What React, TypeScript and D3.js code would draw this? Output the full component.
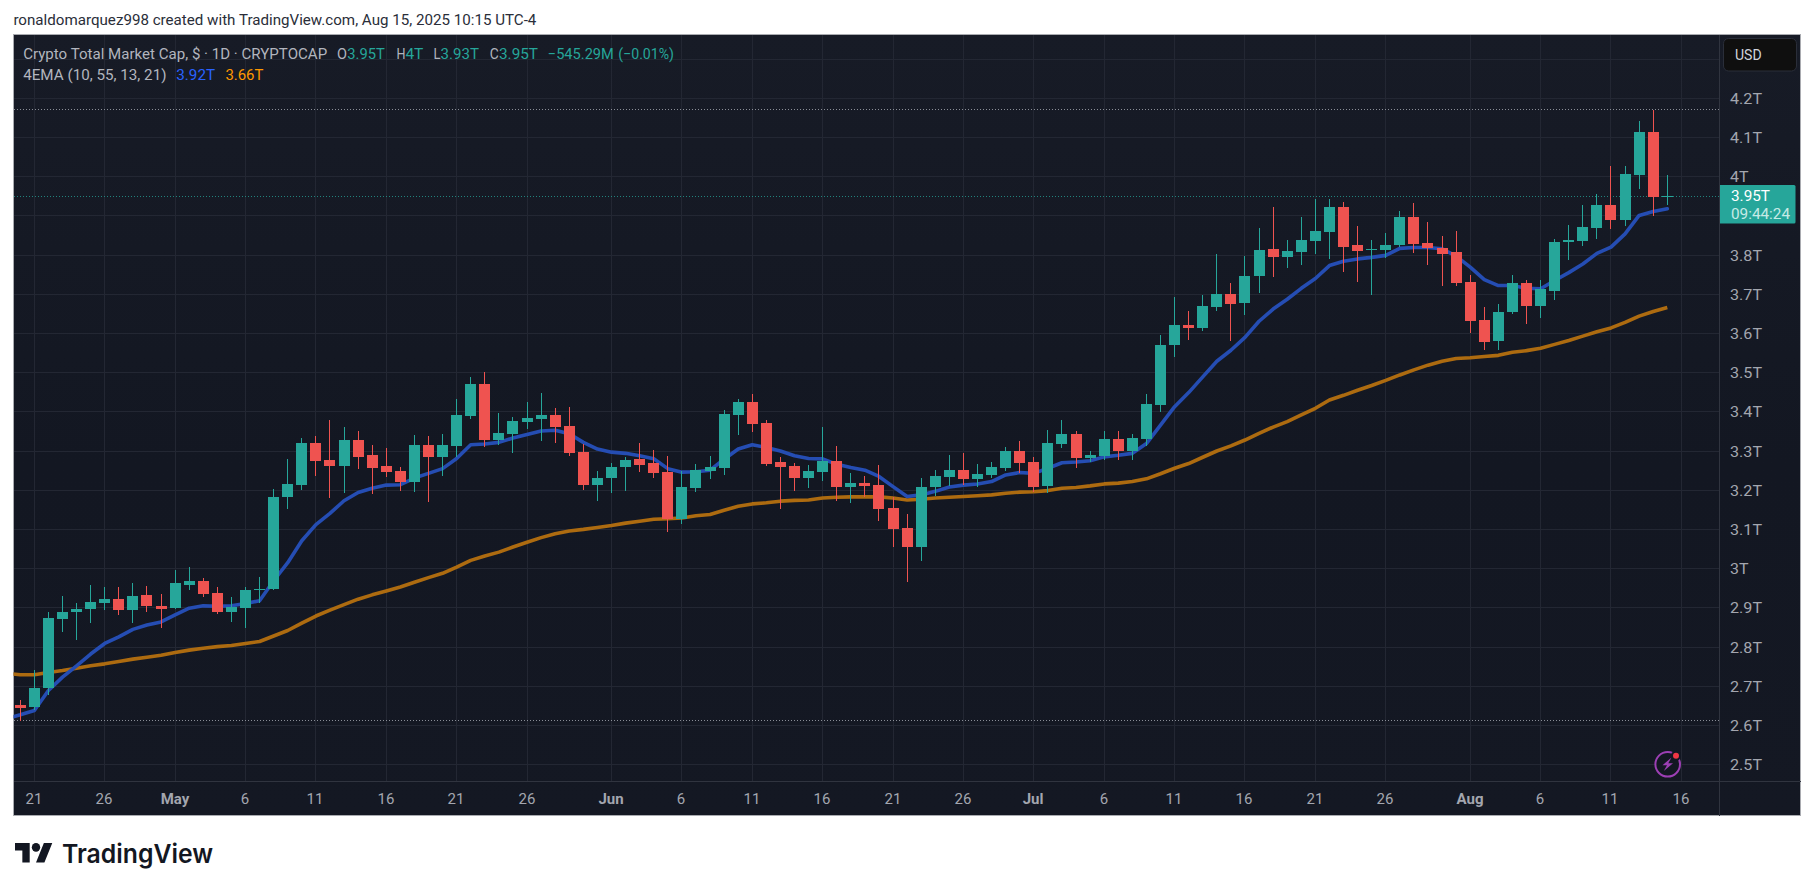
import React from "react";
import * as d3 from "d3";

const W = 1814, H = 891;

// Daily candles, 20 Apr 2025 (index 0) to 15 Aug 2025 (index 117), values in trillions of USD
const opens = [2.652,2.647,2.695,2.871,2.887,2.897,2.912,2.922,2.894,2.932,2.904,2.899,2.958,2.968,2.938,2.889,2.899,2.946,2.948,3.182,
3.213,3.320,3.276,3.261,3.327,3.289,3.261,3.248,3.220,3.315,3.284,3.312,3.389,3.470,3.327,3.343,3.373,3.381,3.391,3.363,
3.297,3.213,3.230,3.259,3.279,3.269,3.246,3.126,3.205,3.248,3.256,3.391,3.424,3.371,3.271,3.261,3.230,3.246,3.274,3.207,
3.218,3.213,3.154,3.103,3.054,3.207,3.233,3.251,3.228,3.238,3.256,3.299,3.271,3.210,3.317,3.342,3.281,3.286,3.329,3.299,
3.329,3.416,3.569,3.620,3.613,3.666,3.699,3.676,3.745,3.814,3.794,3.806,3.835,3.857,3.921,3.824,3.812,3.812,3.824,3.896,
3.829,3.818,3.807,3.731,3.634,3.580,3.654,3.728,3.670,3.708,3.833,3.835,3.869,3.927,3.889,4.004,4.114,3.948];
const closes = [2.644,2.695,2.874,2.889,2.897,2.915,2.922,2.894,2.930,2.904,2.897,2.961,2.968,2.935,2.889,2.902,2.945,2.948,3.182,3.215,
3.320,3.274,3.261,3.327,3.284,3.256,3.246,3.220,3.315,3.284,3.315,3.391,3.470,3.327,3.345,3.376,3.384,3.391,3.361,3.294,
3.213,3.230,3.259,3.276,3.264,3.243,3.126,3.207,3.251,3.259,3.394,3.424,3.368,3.266,3.259,3.230,3.248,3.274,3.207,3.218,
3.210,3.151,3.100,3.054,3.207,3.236,3.251,3.228,3.241,3.259,3.299,3.269,3.207,3.319,3.342,3.281,3.289,3.329,3.299,3.332,
3.419,3.569,3.620,3.613,3.669,3.699,3.674,3.745,3.812,3.794,3.809,3.837,3.860,3.921,3.819,3.809,3.814,3.824,3.896,3.827,
3.817,3.802,3.728,3.631,3.578,3.654,3.728,3.670,3.711,3.833,3.836,3.871,3.927,3.889,4.006,4.114,3.948,3.950];
const highs = [2.665,2.741,2.889,2.930,2.910,2.958,2.953,2.953,2.963,2.955,2.935,2.996,3.004,2.976,2.953,2.927,2.953,2.978,3.203,3.279,
3.332,3.338,3.378,3.361,3.350,3.315,3.307,3.259,3.340,3.338,3.343,3.432,3.488,3.501,3.396,3.386,3.424,3.447,3.409,3.412,
3.317,3.248,3.269,3.284,3.320,3.302,3.287,3.248,3.266,3.287,3.404,3.432,3.445,3.378,3.284,3.269,3.264,3.361,3.312,3.243,
3.236,3.264,3.182,3.139,3.230,3.251,3.289,3.294,3.266,3.271,3.310,3.325,3.284,3.352,3.378,3.350,3.299,3.350,3.350,3.342,
3.444,3.595,3.692,3.656,3.697,3.801,3.727,3.796,3.868,3.921,3.837,3.896,3.942,3.942,3.934,3.873,3.837,3.855,3.911,3.931,
3.883,3.848,3.861,3.749,3.667,3.675,3.749,3.736,3.734,3.841,3.876,3.927,3.955,4.027,4.027,4.142,4.169,4.004];
const lows = [2.611,2.639,2.677,2.836,2.818,2.861,2.894,2.881,2.861,2.887,2.848,2.897,2.945,2.927,2.884,2.864,2.848,2.910,2.945,3.151,
3.200,3.236,3.179,3.192,3.253,3.190,3.233,3.197,3.195,3.169,3.236,3.284,3.381,3.310,3.315,3.294,3.355,3.325,3.320,3.287,
3.200,3.172,3.192,3.197,3.246,3.230,3.093,3.113,3.195,3.228,3.238,3.340,3.348,3.261,3.151,3.197,3.205,3.223,3.172,3.167,
3.182,3.121,3.054,2.965,3.019,3.185,3.210,3.213,3.207,3.230,3.248,3.243,3.195,3.192,3.306,3.255,3.271,3.276,3.276,3.276,
3.312,3.398,3.539,3.582,3.605,3.656,3.579,3.646,3.702,3.743,3.766,3.773,3.801,3.789,3.755,3.730,3.697,3.791,3.819,3.804,
3.773,3.721,3.721,3.601,3.557,3.557,3.649,3.624,3.637,3.685,3.785,3.823,3.841,3.866,3.874,3.968,3.899,3.927];

// Moving averages; the first value belongs to the day before the first candle (index -1)
const emaFast = [2.616,2.626,2.637,2.688,2.722,2.751,2.781,2.808,2.825,2.844,2.855,2.863,2.881,2.898,2.904,2.903,2.904,2.910,2.917,2.968,3.014,
3.070,3.111,3.140,3.172,3.193,3.204,3.212,3.213,3.230,3.242,3.254,3.280,3.315,3.317,3.321,3.332,3.341,3.350,3.352,3.343,
3.321,3.304,3.296,3.293,3.287,3.279,3.254,3.245,3.246,3.250,3.278,3.304,3.315,3.308,3.299,3.287,3.280,3.279,3.265,3.257,
3.250,3.234,3.208,3.183,3.187,3.196,3.207,3.212,3.215,3.221,3.238,3.244,3.242,3.255,3.269,3.271,3.274,3.284,3.288,3.293,
3.318,3.365,3.412,3.448,3.488,3.528,3.556,3.589,3.630,3.661,3.686,3.714,3.739,3.772,3.783,3.789,3.793,3.798,3.816,3.818,
3.818,3.815,3.796,3.768,3.736,3.721,3.721,3.714,3.713,3.734,3.754,3.776,3.803,3.819,3.853,3.900,3.910,3.917];
const emaSlow = [2.732,2.728,2.728,2.734,2.739,2.745,2.751,2.756,2.762,2.768,2.773,2.778,2.785,2.791,2.796,2.800,2.803,2.808,2.813,2.827,2.841,
2.860,2.878,2.893,2.907,2.921,2.932,2.942,2.952,2.964,2.976,2.987,3.003,3.020,3.031,3.041,3.054,3.066,3.078,3.088,3.095,
3.099,3.104,3.109,3.115,3.120,3.125,3.126,3.128,3.134,3.137,3.148,3.158,3.164,3.167,3.171,3.173,3.174,3.179,3.181,3.182,
3.182,3.182,3.179,3.174,3.176,3.179,3.181,3.183,3.185,3.187,3.191,3.194,3.195,3.198,3.204,3.206,3.210,3.215,3.217,3.221,
3.228,3.241,3.255,3.267,3.283,3.299,3.312,3.327,3.344,3.360,3.374,3.391,3.408,3.429,3.441,3.454,3.466,3.479,3.493,3.506,
3.518,3.528,3.535,3.537,3.540,3.543,3.551,3.555,3.561,3.571,3.581,3.592,3.603,3.613,3.627,3.643,3.655,3.665];

const dateTickIndex = [1,6,11,16,21,26,31,36,42,47,52,57,62,67,72,77,82,87,92,97,103,108,113,118];
const dateTickLabels = ["21","26","May","6","11","16","21","26","Jun","6","11","16","21","26","Jul","6","11","16","21","26","Aug","6","11","16"];
const boldLabels = ["May","Jun","Jul","Aug"];
const priceGrid = [2.5,2.6,2.7,2.8,2.9,3.0,3.1,3.2,3.3,3.4,3.5,3.6,3.7,3.8,3.9,4.0,4.1,4.2,4.3];
// 3.9T sits under the last-price tag in the reference, so it is not drawn
const priceTickValues = [2.5,2.6,2.7,2.8,2.9,3.0,3.1,3.2,3.3,3.4,3.5,3.6,3.7,3.8,4.0,4.1,4.2];
const priceTickLabels = ["2.5T","2.6T","2.7T","2.8T","2.9T","3T","3.1T","3.2T","3.3T","3.4T","3.5T","3.6T","3.7T","3.8T","4T","4.1T","4.2T"];
const lastPrice = 3.95;

const FONT = "Roboto, 'Noto Sans', sans-serif";
const UP = "#26a69a", DOWN = "#ef5350", GRID = "#232733", SEP = "#30343f", AXIS = "#a3a6af";
const LEFT = 13.5, RIGHT = 1800.5, TOP = 34.5, BOTTOM = 815.5, PLOT_R = 1719.5, PLOT_B = 781.5;

const x = d3.scaleLinear().domain([0, 117]).range([20.26, 1667.3]);
const y = d3.scaleLinear().domain([2.5, 4.2]).range([764.2, 97.8]);
const snapX = (i: number) => Math.floor(x(i)) + 0.5;
const snapY = (v: number) => Math.round(y(v));

const lineGen = d3.line<number>().x((_, k) => x(k - 1)).y((v) => y(v)).curve(d3.curveLinear);

function label(s: string) {
  let w = 0;
  for (const c of s) w += c === "." ? 6 : c === "T" ? 11 : 7.5;
  return w;
}

function Txt(p: any) {
  const { x: tx, y: ty, w, size = 15, fill = "#b2b5be", weight = 400, anchor = "start", family = FONT, children } = p;
  return (
    <text x={tx} y={ty} fontFamily={family} fontSize={size} fill={fill} fontWeight={weight} textAnchor={anchor}
      dominantBaseline="central" textLength={w} lengthAdjust={w ? "spacingAndGlyphs" : undefined}>
      {children}
    </text>
  );
}

export default function App() {
  return (
    <svg width={W} height={H} viewBox={`0 0 ${W} ${H}`} style={{ position: "fixed", left: 0, top: 0, background: "#fff" }}>
      <defs>
        <clipPath id="plot"><rect x={LEFT} y={TOP} width={PLOT_R - LEFT} height={PLOT_B - TOP} /></clipPath>
        <linearGradient id="bg" x1="0" y1="0" x2="0" y2="1">
          <stop offset="0" stopColor="#171b26" />
          <stop offset="0.55" stopColor="#131722" />
          <stop offset="1" stopColor="#141823" />
        </linearGradient>
      </defs>

      <Txt x={13.4} y={20} w={523} size={15} fill="#2a2e39">ronaldomarquez998 created with TradingView.com, Aug 15, 2025 10:15 UTC-4</Txt>

      <rect x={LEFT} y={TOP} width={RIGHT - LEFT} height={BOTTOM - TOP} fill="url(#bg)" stroke="#a9abb0" strokeWidth={1} shapeRendering="crispEdges" />

      <g shapeRendering="crispEdges" stroke={GRID} strokeWidth={1}>
        {priceGrid.map((v) => <line key={v} x1={LEFT} x2={PLOT_R} y1={snapY(v) + 0.5} y2={snapY(v) + 0.5} />)}
        {dateTickIndex.map((i) => <line key={i} x1={snapX(i)} x2={snapX(i)} y1={TOP} y2={PLOT_B} />)}
      </g>
      <g shapeRendering="crispEdges" stroke={SEP} strokeWidth={1}>
        <line x1={LEFT} x2={RIGHT} y1={PLOT_B} y2={PLOT_B} />
        <line x1={PLOT_R} x2={PLOT_R} y1={TOP} y2={BOTTOM} />
      </g>

      <g clipPath="url(#plot)">
        <g shapeRendering="crispEdges" strokeOpacity={0.75}>
          <line x1={14} x2={PLOT_R} y1={109.5} y2={109.5} stroke="#b2b5be" strokeDasharray="1 2" />
          <line x1={14} x2={PLOT_R} y1={720.5} y2={720.5} stroke="#b2b5be" strokeDasharray="1 2" />
          <line x1={14} x2={PLOT_R} y1={snapY(lastPrice) + 0.5} y2={snapY(lastPrice) + 0.5} stroke={UP} strokeDasharray="1 2" />
        </g>
        <path d={lineGen(emaSlow) || ""} fill="none" stroke="#ad6b10" strokeWidth={3.6} strokeLinejoin="round" />
        <path d={lineGen(emaFast) || ""} fill="none" stroke="#254db3" strokeWidth={3.6} strokeLinejoin="round" strokeLinecap="round" />
        <g shapeRendering="crispEdges">
          {opens.map((o, i) => {
            const c = closes[i];
            const col = c >= o ? UP : DOWN;
            const cx = snapX(i);
            const top = snapY(Math.max(o, c));
            const bot = snapY(Math.min(o, c));
            return (
              <g key={i}>
                <rect x={cx - 0.5} y={snapY(highs[i])} width={1} height={Math.max(1, snapY(lows[i]) - snapY(highs[i]))} fill={col} />
                <rect x={cx - 5.5} y={top} width={11} height={Math.max(1, bot - top)} fill={col} />
              </g>
            );
          })}
        </g>
      </g>

      {/* legend */}
      <Txt x={23.2} y={54} w={304}>Crypto Total Market Cap, $ · 1D · CRYPTOCAP</Txt>
      <Txt x={337} y={54} w={10}>O</Txt><Txt x={347.3} y={54} w={37.5} fill={UP}>3.95T</Txt>
      <Txt x={396.4} y={54} w={9}>H</Txt><Txt x={405.4} y={54} w={18} fill={UP}>4T</Txt>
      <Txt x={433.5} y={54} w={7}>L</Txt><Txt x={440.6} y={54} w={38.4} fill={UP}>3.93T</Txt>
      <Txt x={489.7} y={54} w={9}>C</Txt><Txt x={499} y={54} w={39} fill={UP}>3.95T</Txt>
      <Txt x={547.8} y={54} w={66} fill={UP}>−545.29M</Txt><Txt x={618.3} y={54} w={55.7} fill={UP}>(−0.01%)</Txt>
      <Txt x={23.2} y={75} w={143.3}>4EMA (10, 55, 13, 21)</Txt>
      <Txt x={176.3} y={75} w={38.7} fill="#2962ff">3.92T</Txt>
      <Txt x={225.4} y={75} w={38} fill="#ff9800">3.66T</Txt>

      {/* price axis */}
      {priceTickValues.map((v, k) => (
        <Txt key={v} x={1730} y={snapY(v) + 0.5} w={label(priceTickLabels[k])} fill={AXIS}>{priceTickLabels[k]}</Txt>
      ))}
      <rect x={1723.5} y={38.5} width={73} height={32.5} rx={5} fill="#0f0f0f" stroke="#2a2e39" strokeWidth={1} />
      <Txt x={1735} y={55} w={26.7} fill="#d1d4dc">USD</Txt>
      <path d="M1720 185 H1794 a1.5 1.5 0 0 1 1.5 1.5 V222 a1.5 1.5 0 0 1 -1.5 1.5 H1720 Z" fill={UP} />
      <Txt x={1731} y={195.5} w={39} fill="#ffffff">3.95T</Txt>
      <Txt x={1731} y={214} w={59} fill="#c6eae6">09:44:24</Txt>

      {/* time axis */}
      {dateTickIndex.map((i, k) => {
        const s = dateTickLabels[k];
        const bold = boldLabels.includes(s);
        return (
          <Txt key={i} x={snapX(i) - 0.5} y={799} anchor="middle" fill={AXIS} weight={bold ? 700 : 400}>{s}</Txt>
        );
      })}

      {/* alert badge */}
      <circle cx={1667.7} cy={764.3} r={12.3} fill="#131722" stroke="#9c3fb4" strokeWidth={2} />
      <path d="M1671.5 757.5 L1662.5 765.2 H1667 L1663.8 771 L1673 763.3 H1668.3 Z" fill="#9c3fb4" />
      <circle cx={1676} cy={755.7} r={5} fill="#131722" />
      <circle cx={1676} cy={755.7} r={3} fill="#f23645" />

      {/* logo */}
      <g transform="translate(15 838.6) scale(1.05 1.09)" fill="#131722">
        <path d="M14 22H7V11H0V4h14v18zM28 22h-8l7.5-18h8L28 22z" />
        <circle cx={20} cy={8} r={4} />
      </g>
      <Txt x={62} y={853} w={151} size={26} weight={600} fill="#131722" family="Inter, Roboto, sans-serif">TradingView</Txt>
    </svg>
  );
}
